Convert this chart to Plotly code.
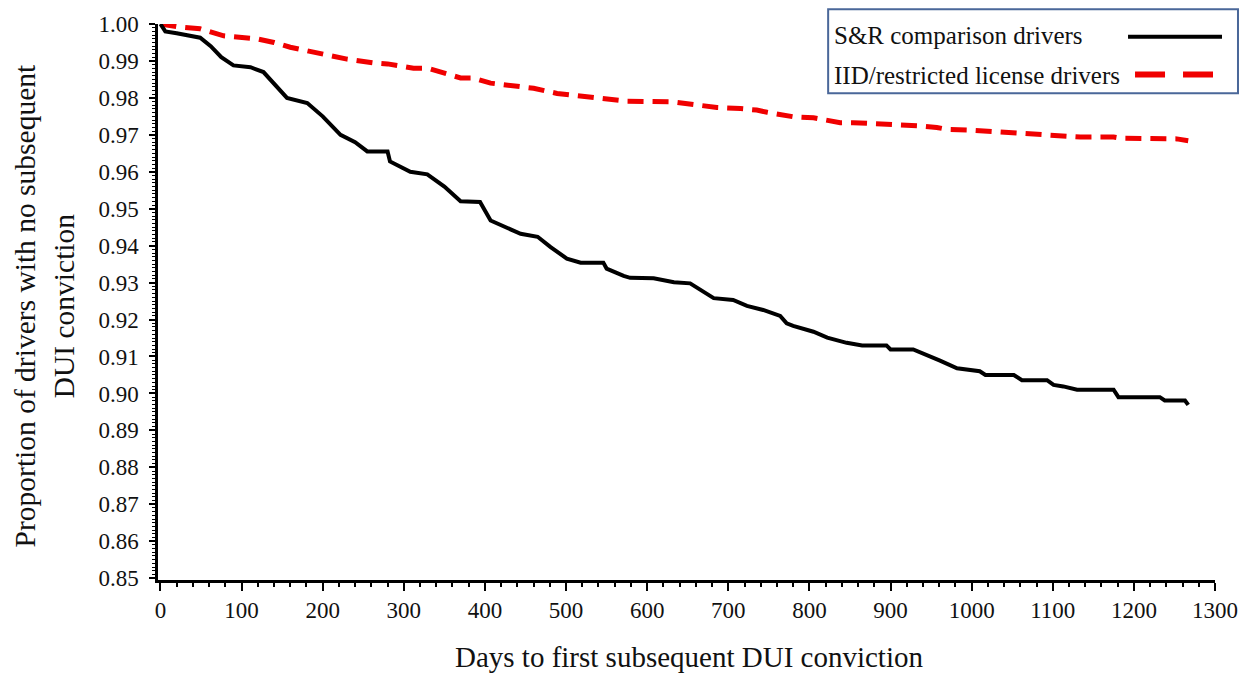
import plotly.graph_objects as go

# ---- data (Kaplan-Meier style curves) ----
sr_days = [0, 6, 20, 49, 62, 75, 90, 111, 127, 140, 156, 181, 200, 222, 240, 255, 280,
           283, 308, 329, 350, 370, 394, 407, 425, 444, 465, 481, 501, 518, 546, 550,
           571, 579, 608, 633, 653, 674, 682, 706, 723, 743, 764, 772, 780, 805, 822,
           846, 865, 895, 900, 928, 945, 961, 982, 1010, 1017, 1052, 1062, 1093, 1101,
           1113, 1130, 1175, 1181, 1232, 1238, 1263, 1267]
sr_surv = [1.000, 0.998, 0.9975, 0.9963, 0.994, 0.991, 0.9888, 0.9883, 0.987, 0.984,
           0.980, 0.9786, 0.975, 0.970, 0.968, 0.9655, 0.9655, 0.9628, 0.960, 0.9593,
           0.956, 0.952, 0.9518, 0.9468, 0.945, 0.9432, 0.9424, 0.9396, 0.9365, 0.9354,
           0.9354, 0.9338, 0.9318, 0.9313, 0.9312, 0.9301, 0.9298, 0.9267, 0.9258, 0.9253,
           0.9237, 0.9226, 0.921, 0.919, 0.9183, 0.9167, 0.9151, 0.9137, 0.913, 0.913,
           0.9119, 0.9119, 0.9105, 0.9089, 0.9068, 0.906, 0.905, 0.905, 0.9036, 0.9036,
           0.9023, 0.9019, 0.901, 0.901, 0.899, 0.899, 0.8981, 0.8981, 0.8969]

iid_days = [0, 20, 49, 78, 119, 140, 160, 205, 230, 262, 280, 312, 330, 370, 385, 407,
            460, 489, 518, 530, 546, 559, 575, 633, 657, 674, 686, 715, 735, 748, 764,
            780, 805, 823, 838, 854, 891, 908, 937, 957, 969, 998, 1039, 1068, 1088, 1105,
            1134, 1175, 1183, 1253, 1267]
iid_surv = [1.0, 0.9993, 0.9987, 0.9968, 0.996, 0.995, 0.9937, 0.9917, 0.9905, 0.9895,
            0.9892, 0.988, 0.988, 0.9854, 0.9854, 0.984, 0.9826, 0.9812, 0.9805, 0.9805,
            0.9801, 0.9796, 0.9791, 0.9789, 0.9783, 0.9778, 0.9774, 0.9771, 0.9767, 0.9761,
            0.9754, 0.9749, 0.9746, 0.9738, 0.9733, 0.9733, 0.9729, 0.9729, 0.9724, 0.972,
            0.9715, 0.9713, 0.9707, 0.9705, 0.9702, 0.9698, 0.9694, 0.9694, 0.9691, 0.9689,
            0.9684]

series_names = ["S&R comparison drivers", "IID/restricted license drivers"]
x_title = "Days to first subsequent DUI conviction"
y_title = "Proportion of drivers with no subsequent<br>DUI conviction"

FONT = "Liberation Serif, Times New Roman, serif"
W, H = 1253, 676
L, R, T, B = 157.6, 38, 18, 96

fig = go.Figure()
fig.add_trace(go.Scatter(x=iid_days, y=iid_surv, mode="lines",
                         name=series_names[1],
                         line=dict(color="#f00000", width=5, dash="16px,9px")))
fig.add_trace(go.Scatter(x=sr_days, y=sr_surv, mode="lines",
                         name=series_names[0],
                         line=dict(color="black", width=4)))

# pixel -> paper helpers for the hand-drawn legend box
pw = W - L - R
ph = H - T - B
def px(x):
    return (x - L) / pw
def py(y):
    return (H - B - y) / ph

shapes = [
    dict(type="rect", xref="paper", yref="paper", x0=px(828), x1=px(1238), y0=py(88), y1=py(3),
         line=dict(color="#4a6799", width=2), fillcolor="white", layer="above"),
    dict(type="line", xref="paper", yref="paper", x0=px(1128), x1=px(1222), y0=py(31), y1=py(31),
         line=dict(color="black", width=4), layer="above"),
    dict(type="line", xref="paper", yref="paper", x0=px(1135), x1=px(1213), y0=py(69), y1=py(69),
         line=dict(color="#f00000", width=6, dash="30px,18px"), layer="above"),
]
annotations = [
    dict(text=series_names[0], xref="paper", yref="paper", x=px(832), y=py(30),
         xanchor="left", yanchor="middle", showarrow=False,
         font=dict(family=FONT, size=25, color="#111")),
    dict(text=series_names[1], xref="paper", yref="paper", x=px(832), y=py(70),
         xanchor="left", yanchor="middle", showarrow=False,
         font=dict(family=FONT, size=25, color="#111")),
    dict(text=x_title, xref="paper", yref="paper", x=px(689), y=py(658),
         xanchor="center", yanchor="middle", showarrow=False,
         font=dict(family=FONT, size=29, color="#111")),
    dict(text=y_title, xref="paper", yref="paper", x=px(44), y=py(303),
         xanchor="center", yanchor="middle", showarrow=False, textangle=-90,
         font=dict(family=FONT, size=29.5, color="#111")),
]

fig.update_layout(
    width=W, height=H,
    margin=dict(l=L, r=R, t=T, b=B),
    paper_bgcolor="white", plot_bgcolor="white",
    showlegend=False,
    font=dict(family=FONT, size=23, color="#111"),
    shapes=shapes, annotations=annotations,
    xaxis=dict(range=[-3, 1300], dtick=100, tick0=0, showgrid=False, zeroline=False,
               showline=True, linecolor="black", linewidth=2.5,
               ticks="outside", ticklen=8, tickwidth=2, tickcolor="black",
               minor=dict(dtick=20, ticks="outside", ticklen=4, tickwidth=1.5, tickcolor="black"),
               tickfont=dict(family=FONT, size=23, color="#111")),
    yaxis=dict(range=[0.8495, 1.0], dtick=0.01, tick0=0.85, tickformat=".2f",
               showgrid=False, zeroline=False,
               showline=True, linecolor="black", linewidth=2.5,
               ticks="outside", ticklen=6, tickwidth=2, tickcolor="black",
               minor=dict(dtick=0.001, ticks="outside", ticklen=3, tickwidth=1.2, tickcolor="black"),
               tickfont=dict(family=FONT, size=23, color="#111"), ticklabelstandoff=6),
)

fig.write_html("out.html",
               config={"displayModeBar": False},
               post_script="document.body.style.margin='0';document.body.style.overflow='hidden';")
